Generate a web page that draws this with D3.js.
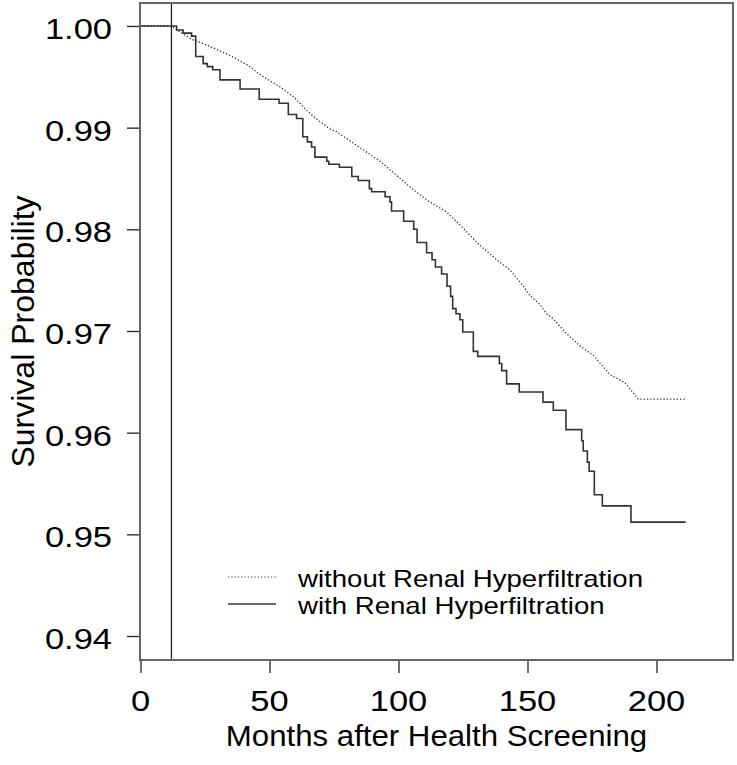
<!DOCTYPE html>
<html><head><meta charset="utf-8">
<script src="https://cdn.jsdelivr.net/npm/d3@7"></script>
<style>
html,body{margin:0;padding:0;background:#fff;}
svg{display:block;font-family:"Liberation Sans",Arial,sans-serif;}
</style></head>
<body>
<svg id="chart" width="737" height="765"></svg>
<script>
// ---- data ----
const xTicks = [0, 50, 100, 150, 200];
const yTicks = [0.94, 0.95, 0.96, 0.97, 0.98, 0.99, 1.00];
const yTickLabels = ["0.94", "0.95", "0.96", "0.97", "0.98", "0.99", "1.00"];
const landmarkMonth = 12;

const monthsWith = [0, 12, 14, 16.5, 19.8, 21.4, 24.3, 25.9, 28, 30.8, 38.6, 46, 53.7, 57.3, 60.5, 62.9, 64.7, 66.3, 67.6, 72.2, 73, 77.1, 81.9, 84.4, 88.7, 89.6, 94.8, 96.7, 97.3, 102, 105.9, 107.2, 110.9, 113, 114.3, 116.7, 118.8, 120.2, 121, 122.3, 123.8, 124.9, 129, 130.7, 139.1, 140, 141.9, 146.8, 156, 160, 164.9, 171, 171.6, 173.2, 173.9, 175.9, 179, 190.1, 211.3];
const survWith = [1.0, 1.0, 0.9996, 0.9993, 0.9990, 0.9970, 0.9963, 0.9960, 0.9957, 0.9947, 0.9938, 0.9928, 0.9924, 0.9913, 0.9909, 0.9891, 0.9886, 0.9881, 0.9871, 0.9867, 0.9864, 0.9861, 0.9852, 0.9848, 0.9840, 0.9837, 0.9832, 0.9827, 0.9818, 0.9808, 0.9800, 0.9787, 0.9777, 0.9770, 0.9763, 0.9756, 0.9744, 0.9734, 0.9722, 0.9717, 0.9711, 0.9699, 0.9680, 0.9675, 0.9668, 0.9661, 0.9648, 0.9640, 0.9630, 0.9622, 0.9603, 0.9592, 0.9582, 0.9571, 0.9562, 0.9539, 0.9528, 0.9512, 0.9512];

const monthsWithout = [0, 12, 15.3, 19.8, 26.9, 34.7, 41.2, 47.6, 54.1, 59.5, 64.4, 67, 73.2, 76, 86.4, 92.8, 99.3, 105.7, 111.5, 116.7, 118.7, 125.1, 131.2, 138.1, 143.2, 148.4, 150.9, 154.8, 157.4, 160, 164.5, 170, 175.5, 182, 187.8, 192.9, 211.3];
const survWithout = [1.0, 1.0, 0.9994, 0.9987, 0.9980, 0.9971, 0.9962, 0.9950, 0.9940, 0.9930, 0.9917, 0.9911, 0.9899, 0.9896, 0.9878, 0.9867, 0.9853, 0.9839, 0.9828, 0.9820, 0.9817, 0.9801, 0.9785, 0.9770, 0.9760, 0.9744, 0.9735, 0.9726, 0.9717, 0.9712, 0.9699, 0.9686, 0.9676, 0.9657, 0.9649, 0.9633, 0.9633];

const legendLabels = ["without Renal Hyperfiltration", "with Renal Hyperfiltration"];
const xTitle = "Months after Health Screening";
const yTitle = "Survival Probability";

// ---- layout ----
const L = 140, R = 733, T = 3, B = 660;
const svg = d3.select("#chart");

const x = d3.scaleLinear().domain([-0.19, 229.65]).range([L, R]);
const y = d3.scaleLinear().domain([0.93764, 1.00226]).range([B, T]);

function stext(g, tx, ty, str, size, anchor, sx) {
  return g.append("text")
    .attr("transform", `translate(${tx},${ty}) scale(${sx},1)`)
    .attr("text-anchor", anchor)
    .attr("font-size", size)
    .attr("fill", "#000")
    .text(str);
}

// axes
const xAxis = svg.append("g").attr("transform", `translate(0,${B})`)
  .call(d3.axisBottom(x).tickValues(xTicks).tickSize(13).tickFormat(""));
const yAxis = svg.append("g").attr("transform", `translate(${L},0)`)
  .call(d3.axisLeft(y).tickValues(yTicks).tickSize(13).tickFormat(""));
[xAxis, yAxis].forEach(a => {
  a.select(".domain").remove();
  a.selectAll(".tick line").attr("stroke", "#222").attr("stroke-width", 1.3);
});

const labG = svg.append("g");
xTicks.forEach(v => stext(labG, x(v), 711, String(v), 30, "middle", 1.15));
yTicks.forEach((v, i) => stext(labG, 112, y(v) + 13, yTickLabels[i], 30, "end", 1.15));

// titles
stext(svg, (L + R) / 2, 746, xTitle, 30, "middle", 1.04);
svg.append("text")
  .attr("transform", `translate(34,${(T + B) / 2}) rotate(-90)`)
  .attr("text-anchor", "middle").attr("font-size", 32).attr("fill", "#000")
  .text(yTitle);

// vertical landmark line
svg.append("line")
  .attr("x1", x(landmarkMonth)).attr("x2", x(landmarkMonth))
  .attr("y1", T).attr("y2", B)
  .attr("stroke", "#222").attr("stroke-width", 1.3);

// curves
const withData = monthsWith.map((m, i) => [m, survWith[i]]);
const withoutData = monthsWithout.map((m, i) => [m, survWithout[i]]);

svg.append("path")
  .attr("d", d3.line().x(d => x(d[0])).y(d => y(d[1])).curve(d3.curveStepAfter)(withData))
  .attr("fill", "none").attr("stroke", "#333").attr("stroke-width", 1.6);

svg.append("path")
  .attr("d", d3.line().x(d => x(d[0])).y(d => y(d[1])).curve(d3.curveLinear)(withoutData))
  .attr("fill", "none").attr("stroke", "#333").attr("stroke-width", 1.3)
  .attr("stroke-dasharray", "1.3,2");

// box
svg.append("rect").attr("x", L).attr("y", T).attr("width", R - L).attr("height", B - T)
  .attr("fill", "none").attr("stroke", "#666").attr("stroke-width", 2);

// legend
const leg = svg.append("g");
leg.append("line").attr("x1", 228).attr("x2", 276).attr("y1", 577).attr("y2", 577)
  .attr("stroke", "#444").attr("stroke-width", 1.2).attr("stroke-dasharray", "1.3,2");
leg.append("line").attr("x1", 228).attr("x2", 276).attr("y1", 604).attr("y2", 604)
  .attr("stroke", "#333").attr("stroke-width", 1.3);
stext(leg, 298, 587, legendLabels[0], 23, "start", 1.2);
stext(leg, 298, 614, legendLabels[1], 23, "start", 1.2);
</script>
</body></html>
